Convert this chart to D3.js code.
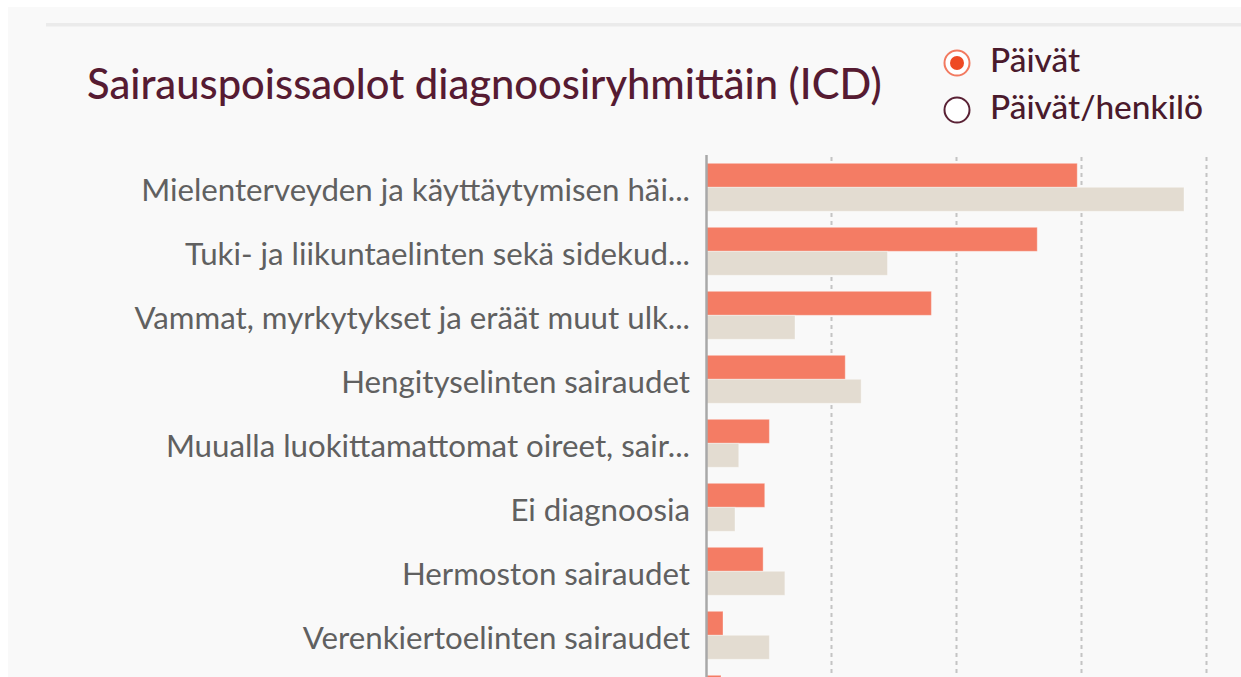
<!DOCTYPE html>
<html>
<head>
<meta charset="utf-8">
<script src="https://cdn.jsdelivr.net/npm/d3@7"></script>
<style>
  html, body { margin: 0; padding: 0; background: #ffffff; }
  svg { display: block; }
</style>
</head>
<body>
<svg id="chart" width="1241" height="677"></svg>
<script>
// Diagnosis groups (ICD) and sick-leave figures
const categories = [
  "Mielenterveyden ja käyttäytymisen häi...",
  "Tuki- ja liikuntaelinten sekä sidekud...",
  "Vammat, myrkytykset ja eräät muut ulk...",
  "Hengityselinten sairaudet",
  "Muualla luokittamattomat oireet, sair...",
  "Ei diagnoosia",
  "Hermoston sairaudet",
  "Verenkiertoelinten sairaudet",
  "Ruoansulatuselinten sairaudet"
];
const seriesNames = ["Päivät", "Vertailu"];
const paivat   = [2966, 2646, 1799, 1110, 503, 466, 453, 132, 116];
const vertailu = [3820, 1448, 708, 1237, 258, 228, 627, 503, 300];
const gridTicks = [0, 1000, 2000, 3000, 4000];
const legendLabels = ["Päivät", "Päivät/henkilö"];
const titleText = "Sairauspoissaolot diagnoosiryhmittäin (ICD)";

const colors = { "Päivät": "#f47c64", "Vertailu": "#e3dcd1" };
const W = 1241, H = 677;
const svg = d3.select("#chart");
const FONT = "Lato, 'Open Sans', 'DejaVu Sans', sans-serif";

// panel background and top divider
svg.append("rect").attr("x", 8).attr("y", 7).attr("width", W - 8).attr("height", H - 7).attr("fill", "#f9f9f9");
svg.append("rect").attr("x", 46).attr("y", 23).attr("width", W - 46).attr("height", 3.5).attr("fill", "#ebebeb");

// fit a text element's font size to a target width
function fitWidth(sel, target, start) {
  sel.attr("font-size", start);
  const w = sel.node().getComputedTextLength();
  const fs = start * target / w;
  sel.attr("font-size", fs);
  return fs;
}

// title
const title = svg.append("text")
  .attr("x", 87).attr("y", 99)
  .attr("fill", "#561b32")
  .attr("font-family", FONT)
  .attr("font-weight", 500)
  .text(titleText);
fitWidth(title, 795, 30);

// legend (radio buttons)
const legend = svg.append("g").attr("class", "legend");
legendLabels.forEach((lab, i) => {
  const cy = 63 + i * 47;
  const g = legend.append("g");
  g.append("circle").attr("cx", 957).attr("cy", cy).attr("r", 12.5)
    .attr("fill", "#ffffff")
    .attr("stroke", i === 0 ? "#f27a60" : "#5a2235")
    .attr("stroke-width", 2);
  if (i === 0) {
    g.append("circle").attr("cx", 957).attr("cy", cy).attr("r", 7).attr("fill", "#ee4a24");
  }
  g.append("text").attr("x", 990).attr("y", cy + 9)
    .attr("fill", "#4a1a2c")
    .attr("font-family", FONT)
    .attr("font-weight", 500)
    .attr("font-size", 26)
    .text(lab);
});
const lt = legend.selectAll("text").nodes();
{
  const s = d3.select(lt[1]);
  const fs = fitWidth(s, 213, 26);
  d3.select(lt[0]).attr("font-size", fs);
}

// scales
const x = d3.scaleLinear().domain([0, 4000]).range([706.5, 1206.5]);
const y = d3.scaleBand().domain(categories).range([155.3, 155.3 + 64 * categories.length])
  .paddingInner(0.25).paddingOuter(0.125);
const ySub = d3.scaleBand().domain(seriesNames).range([0, y.bandwidth()]);

// gridlines
const grid = svg.append("g").attr("class", "grid");
grid.selectAll("line").data(gridTicks.slice(1)).join("line")
  .attr("x1", d => x(d)).attr("x2", d => x(d))
  .attr("y1", 157).attr("y2", H)
  .attr("stroke", "#c4c4c4").attr("stroke-width", 2)
  .attr("stroke-dasharray", "4,4");

// bars
const rows = categories.map((c, i) => ({ cat: c, vals: [paivat[i], vertailu[i]] }));
const rowG = svg.append("g").selectAll("g").data(rows).join("g")
  .attr("transform", d => `translate(0,${y(d.cat)})`);
rowG.selectAll("rect").data(d => d.vals.map((v, j) => ({ key: seriesNames[j], v })))
  .join("rect")
  .attr("x", x(0)).attr("y", d => ySub(d.key))
  .attr("width", d => x(d.v) - x(0))
  .attr("height", ySub.bandwidth())
  .attr("fill", d => colors[d.key])
  .attr("stroke", "rgba(255,255,255,0.35)")
  .attr("stroke-width", 1);

// category axis: only rows whose label centre lies inside the visible area
const visibleCats = categories.filter(c => y(c) + y.bandwidth() / 2 < H - 10);
const yAxis = d3.axisLeft(y).tickValues(visibleCats).tickSize(0).tickPadding(16);
const ax = svg.append("g").attr("transform", `translate(${x(0)},0)`).call(yAxis);
ax.select(".domain").remove();
ax.append("line").attr("x1", 0).attr("x2", 0).attr("y1", 155).attr("y2", H)
  .attr("stroke", "#a8a8a8").attr("stroke-width", 2.5);
const labels = ax.selectAll(".tick text")
  .attr("fill", "#606060")
  .attr("font-family", FONT)
  .attr("font-size", 22)
  .attr("dy", "0.36em");
{
  const first = d3.select(labels.nodes()[0]);
  const fs = fitWidth(first, 549, 22);
  labels.attr("font-size", fs);
}
ax.selectAll(".tick").attr("transform", d => `translate(0,${y(d) + y.bandwidth() / 2 + 2})`);
ax.selectAll(".tick text").attr("x", -16.5);
</script>
</body>
</html>
